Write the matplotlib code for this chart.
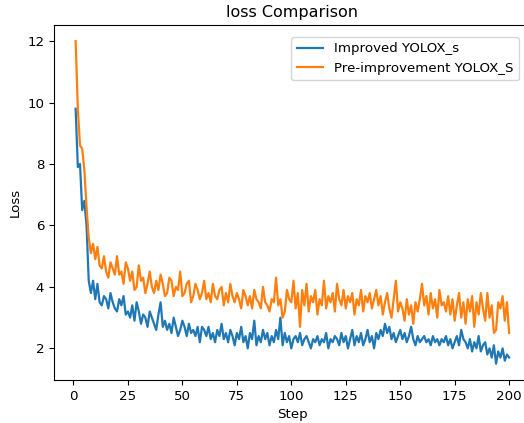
import numpy as np
import matplotlib
matplotlib.use('Agg')
import matplotlib.pyplot as plt

# loss per step
steps = np.arange(1, 201)

improved_loss = [
    9.8, 7.9, 8.0, 6.5, 6.8, 6.0, 4.2, 3.8, 4.2, 3.6,
    4.1, 3.5, 3.4, 3.7, 3.6, 3.3, 3.8, 3.5, 3.3, 3.2,
    3.6, 3.4, 3.7, 3.1, 3.2, 3.0, 3.4, 2.9, 3.5, 3.2,
    2.8, 3.1, 3.0, 2.7, 3.2, 3.0, 2.8, 2.6, 3.1, 3.5,
    2.7, 2.9, 2.6, 2.8, 2.5, 3.0, 2.7, 2.4, 2.6, 2.9,
    2.7, 2.4, 2.8, 2.5, 2.6, 2.4, 2.7, 2.2, 2.7, 2.6,
    2.4, 2.7, 2.3, 2.5, 2.2, 2.6, 2.4, 2.8, 2.3, 2.5,
    2.2, 2.6, 2.4, 2.1, 2.5, 2.3, 2.7, 2.2, 2.4, 2.0,
    2.5, 2.3, 2.9, 2.1, 2.4, 2.2, 2.6, 2.3, 2.5, 2.1,
    2.4, 2.2, 2.6, 2.3, 3.0, 2.1, 2.5, 2.2, 2.4, 2.0,
    2.3, 2.4, 2.2, 2.5, 2.1, 2.3, 2.4, 2.2, 2.0, 2.3,
    2.2, 2.4, 2.1, 2.3, 2.2, 2.5, 2.0, 2.3, 2.2, 2.4,
    2.3, 2.1, 2.5, 2.2, 2.4, 2.0, 2.3, 2.6, 2.1, 2.4,
    2.2, 2.5, 2.1, 2.3, 2.6, 2.2, 2.4, 2.0, 2.5, 2.3,
    2.6, 2.4, 2.8, 2.5, 2.7, 2.3, 2.5, 2.2, 2.4, 2.6,
    2.3, 2.5, 2.2, 2.4, 2.7, 2.3, 2.1, 2.4, 2.2, 2.3,
    2.4, 2.2, 2.3, 2.1, 2.4, 2.2, 2.3, 2.1, 2.3, 2.2,
    2.4, 2.1, 2.3, 2.0, 2.2, 2.4, 2.1, 2.6, 2.3, 2.2,
    2.0, 2.3, 1.9, 2.2, 2.0, 2.4, 1.9, 2.1, 2.2, 1.8,
    2.0, 1.7, 2.1, 1.5, 1.9, 1.7, 2.0, 1.6, 1.8, 1.7,
]

pre_loss = [
    12.0, 9.8, 8.6, 8.5, 7.8, 6.6, 5.6, 5.1, 5.4, 4.9,
    5.3, 4.7, 4.6, 5.0, 4.5, 4.3, 4.8, 4.6, 4.4, 5.0,
    4.4, 4.5, 4.1, 4.8, 4.6, 4.2, 4.5, 3.9, 4.0, 4.7,
    4.2, 4.3, 3.8, 4.1, 4.5, 4.0, 3.8, 4.2, 3.9, 4.4,
    4.1, 3.7, 3.8, 4.3, 4.2, 3.7, 4.0, 3.9, 4.5, 3.7,
    3.8, 4.1, 4.2, 3.5, 3.7, 4.1, 3.9, 3.6, 3.8, 4.2,
    3.6, 3.8, 3.5, 4.1, 3.7, 3.6, 3.9, 4.0, 3.4, 3.8,
    3.5, 4.1, 3.7, 3.5, 3.8, 3.6, 3.3, 3.9, 3.7, 3.4,
    3.7, 3.3, 3.9, 3.6, 3.5, 3.3, 4.0, 3.5, 3.4, 3.2,
    3.6, 3.5, 4.3, 3.4, 3.6, 3.0, 3.2, 3.9, 3.6, 3.5,
    4.2, 3.3, 3.8, 2.7, 3.9, 3.4, 4.1, 3.2, 3.7, 3.5,
    3.9, 3.1, 3.6, 3.4, 4.2, 3.3, 3.7, 3.5, 3.8, 3.2,
    4.1, 3.6, 3.4, 3.9, 3.3, 3.7, 3.5, 3.8, 3.1, 3.6,
    3.4, 3.9, 3.2, 3.7, 3.5, 3.8, 3.3, 3.6, 3.9, 3.4,
    3.7, 3.1, 3.5, 3.8, 3.3, 3.0, 3.6, 4.2, 3.2, 3.5,
    3.3, 2.9, 3.6, 3.1, 3.4, 2.8, 3.5, 3.2, 3.6, 4.1,
    3.4, 3.7, 3.1, 3.8, 3.3, 3.6, 3.0, 3.9, 3.4, 3.5,
    3.2, 3.7, 3.1, 3.6, 2.9, 3.4, 3.8, 3.0, 3.5, 2.8,
    3.6, 3.2, 3.7, 2.7, 3.5, 3.1, 3.8, 3.3, 2.9, 3.8,
    3.0, 3.4, 2.5, 2.6, 3.5, 3.3, 3.7, 2.9, 3.5, 2.5,
]

plt.rcParams['font.size'] = 9.6

fig = plt.figure(figsize=(5.24, 4.23), dpi=100)
ax = fig.add_axes([0.103, 0.102, 0.91, 0.839])

ax.plot(steps, improved_loss, label='Improved YOLOX_s', linewidth=1.6)
ax.plot(steps, pre_loss, label='Pre-improvement YOLOX_S', linewidth=1.6)
ax.set_xlabel('Step')
ax.set_ylabel('Loss')
ax.set_title('loss Comparison', fontsize=11.5)
ax.set_xticks([0, 25, 50, 75, 100, 125, 150, 175, 200])
ax.legend(loc='upper right', borderaxespad=0.9)

fig.savefig('out.png', dpi=100)
